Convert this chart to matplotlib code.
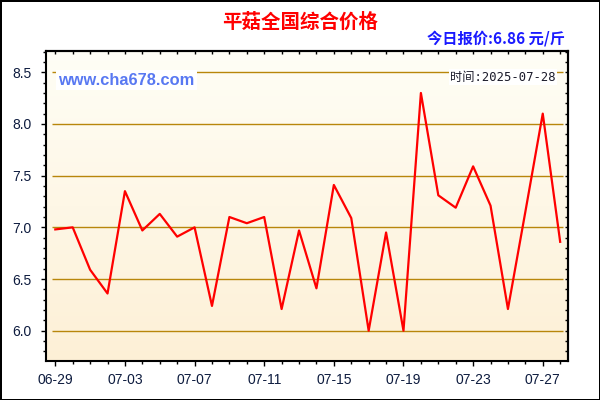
import matplotlib
matplotlib.use("Agg")
import matplotlib.pyplot as plt
import matplotlib.dates as mdates
from matplotlib.colors import LinearSegmentedColormap
from matplotlib.ticker import MultipleLocator
import numpy as np
import pandas as pd

# data
title = "平菇全国综合价格"
today_label = "今日报价:6.86 元/斤"
time_label = "时间:2025-07-28"
site_label = "www.cha678.com"

dates = pd.date_range("2025-06-29", "2025-07-28", freq="D")
prices = [6.98, 7.00, 6.59, 6.36, 7.35, 6.97, 7.13, 6.91, 7.00, 6.24,
          7.10, 7.04, 7.10, 6.21, 6.97, 6.41, 7.41, 7.09, 6.00, 6.95,
          6.00, 8.30, 7.31, 7.19, 7.59, 7.21, 6.21, 7.15, 8.10, 6.86]
y_ticks = [6.0, 6.5, 7.0, 7.5, 8.0, 8.5]

fig = plt.figure(figsize=(6, 4), dpi=100, facecolor="white",
                 edgecolor="black", linewidth=2)
ax = fig.add_axes([46 / 600, 39 / 400, 522 / 600, 310 / 400])

# soft vertical gradient behind the plot
cmap = LinearSegmentedColormap.from_list("bg", ["#fdf0d6", "#fffef6"])
grad = np.linspace(0, 1, 256).reshape(-1, 1)
ax.imshow(grad, extent=[0, 1, 0, 1], transform=ax.transAxes, aspect="auto",
          cmap=cmap, origin="lower", zorder=0)

ax.hlines(y_ticks, 0.012, 0.99, transform=ax.get_yaxis_transform(),
          colors="#b8860b", linewidth=1, zorder=1)

ax.plot(dates, prices, color="#ff0000", linewidth=1.6, zorder=3)

ax.set_xlim(dates[0] - pd.Timedelta(days=0.534), dates[-1] + pd.Timedelta(days=0.45))
ax.set_ylim(5.707, 8.706)

ax.set_xticks(dates[::4])
ax.set_xticks(dates, minor=True)
ax.xaxis.set_major_formatter(mdates.DateFormatter("%m-%d"))
ax.set_yticks(y_ticks)
ax.yaxis.set_minor_locator(MultipleLocator(0.1))
ax.yaxis.set_major_formatter(plt.FuncFormatter(lambda v, p: f"{v:.1f}"))

ax.tick_params(which="major", direction="out", length=3.6, width=1,
               labelsize=10, colors="black", labelcolor="#0d1b3e")
ax.tick_params(which="minor", direction="out", length=2.2, width=1)
ax.tick_params(axis="x", which="major", pad=5)
ax.tick_params(axis="y", which="major", pad=6.5)
for lab in ax.get_xticklabels() + ax.get_yticklabels():
    lab.set_family("Liberation Sans")

for s in ax.spines.values():
    s.set_linewidth(1.5)
    s.set_color("black")
    s.set_zorder(5)

# inward ticks on top and right edges
top = ax.secondary_xaxis("top")
top.set_xticks(dates)
top.tick_params(direction="in", length=2.2, width=1, labeltop=False)
top.spines["top"].set_linewidth(1.5)
right = ax.secondary_yaxis("right")
right.set_yticks(y_ticks)
right.yaxis.set_minor_locator(MultipleLocator(0.1))
right.tick_params(which="both", direction="in", length=2.2, width=1, labelright=False)
right.spines["right"].set_linewidth(1.5)

fig.text(0.5, 0.945, title, ha="center", va="center", fontsize=14,
         fontweight="bold", color="#ff0000", family=["Noto Sans CJK SC", "DejaVu Sans"])
fig.text(0.942, 0.905, today_label, ha="right", va="center", fontsize=11,
         fontweight="bold", color="#1a1aff", family=["Noto Sans CJK SC", "DejaVu Sans"])

ax.text(0.024, 0.906, site_label, transform=ax.transAxes, ha="left", va="center",
        fontsize=11.8, fontweight="bold", color="#5878f2", family="Liberation Sans",
        zorder=4, bbox=dict(boxstyle="square,pad=0.15", fc="white", ec="none"))
ax.text(0.977, 0.916, time_label, transform=ax.transAxes, ha="right", va="center",
        fontsize=8.8, color="#1a1a2a", family=["DejaVu Sans Mono", "Noto Sans CJK SC"],
        zorder=4, bbox=dict(boxstyle="square,pad=0.1", fc="white", ec="none"))

fig.savefig("out.png", dpi=100)
